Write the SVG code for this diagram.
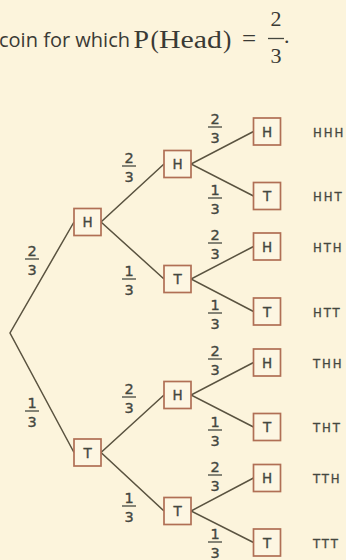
<svg xmlns="http://www.w3.org/2000/svg" width="346" height="560" viewBox="0 0 346 560">
<style>
.bg{fill:#fcf4dc}
.edge{stroke:#5a5340;stroke-width:1.5;fill:none}
.box{fill:#fdf6e2;stroke:#b06f55;stroke-width:1.7}
.lbl{font-family:"DejaVu Sans",sans-serif;font-size:13.5px;fill:#44473f;stroke:#44473f;stroke-width:0.35;text-anchor:middle}
.out{font-family:"DejaVu Sans Condensed","DejaVu Sans",sans-serif;font-stretch:condensed;font-size:13px;fill:#44473f;stroke:#44473f;stroke-width:0.3;letter-spacing:1.9px}
.dig{font-family:"DejaVu Sans",sans-serif;font-size:14.5px;fill:#44473f;stroke:#44473f;stroke-width:0.35;text-anchor:middle}
.bar{stroke:#44473f;stroke-width:1.3}
.sans{font-family:"Open Sans","Liberation Sans",sans-serif;font-size:20px;fill:#3a3a35}
.serif{font-family:"Liberation Serif","Times New Roman",serif;fill:#3a3a35}
</style>
<rect class="bg" x="0" y="0" width="346" height="560"/>

<g id="title">
<text class="sans" x="-1" y="47" textLength="131" lengthAdjust="spacingAndGlyphs">coin for which</text>
<text class="serif" x="133.5" y="48" font-size="25" textLength="15.5" lengthAdjust="spacingAndGlyphs">P</text>
<text class="serif" x="150.5" y="48" font-size="25">(</text>
<text class="serif" x="159" y="48" font-size="25" textLength="63" lengthAdjust="spacingAndGlyphs">Head</text>
<text class="serif" x="223" y="48" font-size="25">)</text>
<text class="serif" x="242" y="47" font-size="25">=</text>
<text class="serif" x="276" y="26" font-size="22" text-anchor="middle">2</text>
<line class="bar" x1="268" y1="38.5" x2="284" y2="38.5"/>
<text class="serif" x="276" y="63" font-size="22" text-anchor="middle">3</text>
<text class="serif" x="284" y="43" font-size="22">.</text>
</g>

<g id="connectors">
<path class="edge" d="M74,222 L10,333 L74,452.5"/>
<path class="edge" d="M164,164 L101,222 L164,279"/>
<path class="edge" d="M164,395 L101,452.5 L164,511"/>
<path class="edge" d="M253.5,131.5 L191,164 L253.5,196"/>
<path class="edge" d="M253.5,246.5 L191,279 L253.5,311.5"/>
<path class="edge" d="M253.5,362.5 L191,395 L253.5,427"/>
<path class="edge" d="M253.5,478 L191,511 L253.5,542.5"/>
</g>

<g id="edge-labels">
<g><text class="dig" x="32" y="256">2</text><line class="bar" x1="25" y1="259" x2="39" y2="259"/><text class="dig" x="32" y="274.5">3</text></g>
<g><text class="dig" x="32" y="408">1</text><line class="bar" x1="25" y1="411" x2="39" y2="411"/><text class="dig" x="32" y="426.5">3</text></g>
<g><text class="dig" x="129" y="163">2</text><line class="bar" x1="122" y1="166" x2="136" y2="166"/><text class="dig" x="129" y="181.5">3</text></g>
<g><text class="dig" x="129" y="276">1</text><line class="bar" x1="122" y1="279" x2="136" y2="279"/><text class="dig" x="129" y="294.5">3</text></g>
<g><text class="dig" x="129" y="394">2</text><line class="bar" x1="122" y1="397" x2="136" y2="397"/><text class="dig" x="129" y="412.5">3</text></g>
<g><text class="dig" x="129" y="503">1</text><line class="bar" x1="122" y1="506" x2="136" y2="506"/><text class="dig" x="129" y="521.5">3</text></g>
<g><text class="dig" x="215" y="124">2</text><line class="bar" x1="208" y1="127" x2="222" y2="127"/><text class="dig" x="215" y="142.5">3</text></g>
<g><text class="dig" x="215" y="195">1</text><line class="bar" x1="208" y1="198" x2="222" y2="198"/><text class="dig" x="215" y="213.5">3</text></g>
<g><text class="dig" x="215" y="240">2</text><line class="bar" x1="208" y1="243" x2="222" y2="243"/><text class="dig" x="215" y="258.5">3</text></g>
<g><text class="dig" x="215" y="310">1</text><line class="bar" x1="208" y1="313" x2="222" y2="313"/><text class="dig" x="215" y="328.5">3</text></g>
<g><text class="dig" x="215" y="356">2</text><line class="bar" x1="208" y1="359" x2="222" y2="359"/><text class="dig" x="215" y="374.5">3</text></g>
<g><text class="dig" x="215" y="427">1</text><line class="bar" x1="208" y1="430" x2="222" y2="430"/><text class="dig" x="215" y="445.5">3</text></g>
<g><text class="dig" x="215" y="472">2</text><line class="bar" x1="208" y1="475" x2="222" y2="475"/><text class="dig" x="215" y="490.5">3</text></g>
<g><text class="dig" x="215" y="539">1</text><line class="bar" x1="208" y1="542" x2="222" y2="542"/><text class="dig" x="215" y="557.5">3</text></g>
</g>

<g id="n1H"><rect class="box" x="74" y="208.5" width="27" height="27"/><text class="lbl" x="87.5" y="227">H</text></g>
<g id="n1T"><rect class="box" x="74" y="439" width="27" height="27"/><text class="lbl" x="87.5" y="457.5">T</text></g>

<g id="n2HH"><rect class="box" x="164" y="150.5" width="27" height="27"/><text class="lbl" x="177.5" y="169">H</text></g>
<g id="n2HT"><rect class="box" x="164" y="265.5" width="27" height="27"/><text class="lbl" x="177.5" y="284">T</text></g>
<g id="n2TH"><rect class="box" x="164" y="381.5" width="27" height="27"/><text class="lbl" x="177.5" y="400">H</text></g>
<g id="n2TT"><rect class="box" x="164" y="497.5" width="27" height="27"/><text class="lbl" x="177.5" y="516">T</text></g>

<g id="n3HHH"><rect class="box" x="253.5" y="118" width="27" height="27"/><text class="lbl" x="267" y="136.5">H</text><text class="out" x="313" y="136.5">HHH</text></g>
<g id="n3HHT"><rect class="box" x="253.5" y="182.5" width="27" height="27"/><text class="lbl" x="267" y="201">T</text><text class="out" x="313" y="201">HHT</text></g>
<g id="n3HTH"><rect class="box" x="253.5" y="233" width="27" height="27"/><text class="lbl" x="267" y="251.5">H</text><text class="out" x="313" y="251.5">HTH</text></g>
<g id="n3HTT"><rect class="box" x="253.5" y="298" width="27" height="27"/><text class="lbl" x="267" y="316.5">T</text><text class="out" x="313" y="316.5">HTT</text></g>
<g id="n3THH"><rect class="box" x="253.5" y="349" width="27" height="27"/><text class="lbl" x="267" y="367.5">H</text><text class="out" x="313" y="367.5">THH</text></g>
<g id="n3THT"><rect class="box" x="253.5" y="413.5" width="27" height="27"/><text class="lbl" x="267" y="432">T</text><text class="out" x="313" y="432">THT</text></g>
<g id="n3TTH"><rect class="box" x="253.5" y="464.5" width="27" height="27"/><text class="lbl" x="267" y="483">H</text><text class="out" x="313" y="483">TTH</text></g>
<g id="n3TTT"><rect class="box" x="253.5" y="529" width="27" height="27"/><text class="lbl" x="267" y="547.5">T</text><text class="out" x="313" y="547.5">TTT</text></g>
</svg>
